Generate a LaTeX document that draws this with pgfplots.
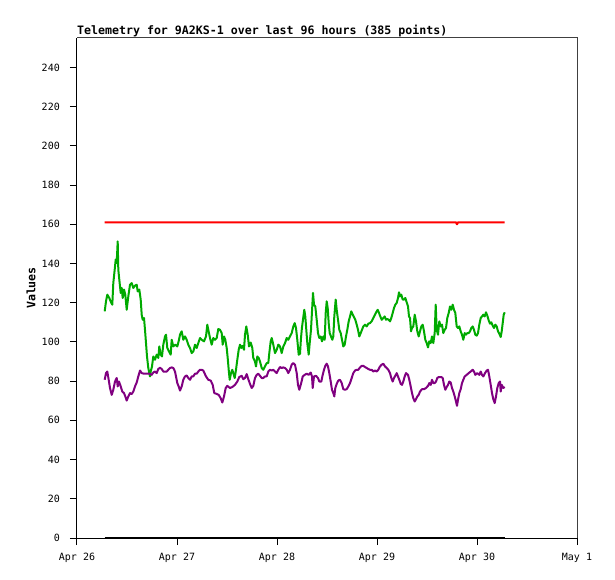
\documentclass[border=0pt]{standalone}
\usepackage{fontspec}
\setmonofont{DejaVu Sans Mono}
\usepackage{pgfplots}
\pgfplotsset{compat=1.18}
\definecolor{tgreen}{RGB}{0,170,0}
\definecolor{tpurple}{RGB}{128,0,128}
\definecolor{tframe}{RGB}{64,64,64}
\begin{document}
\begin{tikzpicture}
\begin{axis}[
  scale only axis, width=500pt, height=500pt,
  xmin=0, xmax=5, ymin=0, ymax=255,
  axis x line*=bottom, axis y line*=left,
  axis line style={black, line width=1pt},
  xtick={0,1,2,3,4,5},
  xticklabels={Apr 26,Apr 27,Apr 28,Apr 29,Apr 30,May 1},
  ytick={0,20,...,240},
  tick align=outside, major tick length=7pt,
  tick style={black, line width=1pt},
  /pgf/number format/assume math mode=true,
  xticklabel style={font=\ttfamily\fontsize{10}{12}\selectfont, anchor=base, inner sep=0pt, yshift=-15pt},
  yticklabel style={font=\ttfamily\fontsize{10}{12}\selectfont, anchor=east, inner sep=0pt, xshift=-10pt},
  clip=false,
]
\draw[tframe, line width=1pt] (rel axis cs:0,1) -- (rel axis cs:1,1) -- (rel axis cs:1,0);
\node[anchor=base west, inner sep=0pt, font=\ttfamily\bfseries\fontsize{11.6}{13}\selectfont] at ([yshift=3pt]rel axis cs:0,1) {Telemetry for 9A2KS-1 over last 96 hours (385 points)};
\node[rotate=90, inner sep=0pt, font=\ttfamily\bfseries\fontsize{11.6}{13}\selectfont] at ([xshift=-46pt]rel axis cs:0,0.5) {Values};

\addplot[black, line width=2pt, line join=round] coordinates {(0.277,0) (4.277,0)};
\addplot[red, line width=2pt, line join=round] coordinates {(0.277,161) (3.790,161) (3.800,160) (3.810,161) (4.277,161)};

\addplot[tgreen, line width=2pt, line join=round] coordinates {
(0.277,115.6) (0.290,120.7) (0.303,124.1) (0.323,122.4) (0.343,119.9) (0.353,119.0) (0.363,130.0) (0.377,136.9) (0.387,142.0) (0.397,140.3)
(0.407,151.3) (0.413,136.9) (0.423,131.8) (0.437,125.0) (0.447,127.5) (0.457,122.4) (0.470,126.7) (0.483,124.1) (0.497,116.4) (0.513,123.2)
(0.530,129.2) (0.547,130.0) (0.563,127.5) (0.580,128.7) (0.597,129.2) (0.607,125.8) (0.623,126.7) (0.637,121.6) (0.647,113.9) (0.657,111.3)
(0.670,112.2) (0.680,106.2) (0.690,99.4) (0.700,92.6) (0.713,86.7) (0.730,82.4) (0.737,84.9) (0.750,87.5) (0.763,92.6) (0.780,90.9)
(0.797,93.5) (0.813,91.8) (0.823,97.7) (0.837,93.5) (0.850,92.6) (0.863,98.6) (0.880,102.8) (0.890,103.7) (0.903,96.9) (0.920,95.1)
(0.937,93.5) (0.947,101.1) (0.963,97.7) (0.983,98.6) (1.003,97.7) (1.020,101.1) (1.030,103.7) (1.047,105.4) (1.063,101.1) (1.080,102.8)
(1.097,101.1) (1.113,98.6) (1.130,96.9) (1.147,94.3) (1.163,95.1) (1.180,98.6) (1.197,96.9) (1.213,99.4) (1.230,102.0) (1.247,101.1)
(1.270,100.3) (1.290,102.8) (1.303,108.8) (1.313,106.2) (1.330,102.0) (1.347,98.6) (1.363,102.0) (1.380,101.1) (1.397,102.0) (1.413,106.6)
(1.430,106.2) (1.447,104.5) (1.457,98.6) (1.470,102.8) (1.483,101.1) (1.497,96.9) (1.507,91.8) (1.517,85.8) (1.527,80.7) (1.540,84.1)
(1.553,85.8) (1.563,84.1) (1.577,81.6) (1.590,85.8) (1.603,90.9) (1.617,96.0) (1.630,98.6) (1.643,96.9) (1.657,98.0) (1.670,96.0)
(1.680,103.7) (1.693,107.9) (1.707,103.7) (1.720,97.7) (1.737,99.7) (1.753,96.9) (1.763,91.8) (1.780,90.0) (1.790,87.5) (1.803,92.6)
(1.817,91.8) (1.830,90.0) (1.847,86.7) (1.863,85.8) (1.880,87.5) (1.897,89.2) (1.913,89.2) (1.923,94.3) (1.937,100.3) (1.947,102.0)
(1.963,98.6) (1.980,94.3) (1.997,96.0) (2.013,98.6) (2.030,97.7) (2.047,94.3) (2.063,97.7) (2.080,99.4) (2.097,102.0) (2.113,101.1)
(2.130,102.8) (2.147,104.5) (2.163,107.9) (2.177,109.6) (2.190,107.1) (2.203,101.1) (2.217,93.5) (2.230,94.0) (2.240,102.0) (2.250,107.5)
(2.263,112.6) (2.273,116.4) (2.283,113.0) (2.293,106.2) (2.303,99.4) (2.317,93.5) (2.327,99.4) (2.340,106.2) (2.350,115.6) (2.360,125.0)
(2.370,119.0) (2.383,118.1) (2.397,111.3) (2.410,104.5) (2.423,102.0) (2.437,102.8) (2.450,100.3) (2.463,102.8) (2.477,101.1) (2.487,114.8)
(2.497,120.7) (2.507,117.3) (2.517,109.6) (2.527,104.5) (2.540,102.8) (2.553,101.1) (2.563,102.8) (2.573,113.0) (2.587,121.6) (2.597,116.4)
(2.610,111.3) (2.623,106.2) (2.637,104.5) (2.650,101.1) (2.663,97.7) (2.677,98.6) (2.690,102.8) (2.703,106.2) (2.717,110.5) (2.730,113.0)
(2.743,115.6) (2.757,113.9) (2.770,112.7) (2.783,111.3) (2.797,108.8) (2.810,106.2) (2.823,102.8) (2.837,104.5) (2.850,106.2) (2.863,107.9)
(2.880,108.8) (2.897,107.9) (2.913,109.3) (2.930,109.6) (2.947,110.5) (2.963,112.2) (2.980,113.9) (2.997,115.6) (3.007,116.4) (3.020,114.8)
(3.033,113.0) (3.047,111.3) (3.063,112.2) (3.077,113.0) (3.090,111.3) (3.103,111.7) (3.117,111.3) (3.130,110.5) (3.143,112.2) (3.157,114.8)
(3.170,117.3) (3.183,119.0) (3.197,119.9) (3.210,122.4) (3.220,125.3) (3.230,123.2) (3.243,124.1) (3.257,121.6) (3.270,121.6) (3.283,122.4)
(3.297,120.2) (3.310,118.1) (3.320,113.0) (3.330,112.2) (3.340,105.4) (3.350,107.1) (3.363,107.9) (3.377,113.9) (3.390,110.5) (3.403,105.4)
(3.417,102.8) (3.430,105.4) (3.443,107.9) (3.457,108.8) (3.470,105.4) (3.483,101.1) (3.497,99.4) (3.510,97.2) (3.523,100.3) (3.537,99.4)
(3.550,102.8) (3.563,99.4) (3.577,104.5) (3.587,119.0) (3.597,106.2) (3.610,103.7) (3.623,110.5) (3.637,107.9) (3.650,108.8) (3.663,104.5)
(3.677,106.2) (3.690,107.1) (3.703,112.2) (3.717,114.8) (3.730,118.1) (3.743,116.4) (3.757,119.0) (3.770,116.4) (3.783,114.8) (3.797,107.9)
(3.810,107.1) (3.823,107.9) (3.837,105.4) (3.850,103.7) (3.863,101.1) (3.877,104.5) (3.890,103.7) (3.903,104.5) (3.917,104.5) (3.930,105.4)
(3.943,107.1) (3.957,107.9) (3.970,106.2) (3.983,103.7) (3.997,103.2) (4.010,104.5) (4.023,108.8) (4.037,112.2) (4.050,113.0) (4.063,113.9)
(4.077,113.0) (4.090,115.1) (4.103,113.4) (4.117,111.0) (4.130,109.3) (4.143,110.0) (4.157,108.3) (4.170,107.1) (4.183,108.8) (4.197,107.9)
(4.210,105.4) (4.223,104.2) (4.237,102.5) (4.247,105.4) (4.257,109.6) (4.267,113.9) (4.277,115.1)
};

\addplot[tpurple, line width=2pt, line join=round] coordinates {
(0.277,80.7) (0.290,84.1) (0.303,84.9) (0.317,80.7) (0.330,76.5) (0.347,73.0) (0.363,75.6) (0.380,79.8) (0.397,81.6) (0.407,77.3)
(0.420,79.8) (0.437,77.3) (0.453,74.7) (0.470,73.9) (0.483,72.2) (0.497,70.1) (0.513,72.2) (0.530,73.9) (0.547,73.4) (0.563,74.7)
(0.580,77.3) (0.597,79.3) (0.613,82.4) (0.630,85.4) (0.647,84.1) (0.670,83.8) (0.697,83.8) (0.723,83.8) (0.747,83.2) (0.763,84.4)
(0.780,84.9) (0.797,84.1) (0.813,86.2) (0.830,86.8) (0.847,86.2) (0.863,84.9) (0.880,84.9) (0.897,84.9) (0.913,85.8) (0.930,86.7)
(0.947,87.0) (0.963,86.7) (0.980,84.9) (0.990,82.4) (1.003,79.0) (1.017,77.3) (1.030,75.2) (1.047,77.3) (1.063,80.7) (1.080,82.4)
(1.097,82.9) (1.113,81.6) (1.130,80.7) (1.147,82.4) (1.163,82.4) (1.180,83.8) (1.197,83.8) (1.213,84.9) (1.230,85.8) (1.247,85.8)
(1.263,85.4) (1.290,82.4) (1.313,80.7) (1.337,80.3) (1.357,78.1) (1.373,73.9) (1.397,73.5) (1.417,73.0) (1.437,71.3) (1.453,69.1)
(1.470,72.2) (1.487,76.5) (1.503,77.6) (1.530,76.5) (1.553,77.0) (1.580,78.1) (1.603,79.8) (1.623,82.1) (1.647,82.7) (1.663,81.0)
(1.680,81.6) (1.697,83.6) (1.713,81.0) (1.730,78.6) (1.747,76.5) (1.763,77.6) (1.780,81.6) (1.797,83.2) (1.813,83.8) (1.830,82.7)
(1.847,81.6) (1.863,81.6) (1.880,82.4) (1.897,82.4) (1.913,84.9) (1.930,85.8) (1.947,85.4) (1.963,85.8) (1.980,84.9) (1.997,84.1)
(2.013,85.8) (2.030,87.2) (2.047,86.7) (2.063,87.0) (2.080,86.7) (2.097,85.8) (2.113,84.1) (2.130,85.8) (2.147,88.4) (2.163,89.2)
(2.180,88.4) (2.197,84.1) (2.210,78.1) (2.223,75.6) (2.237,78.1) (2.250,80.7) (2.257,82.4) (2.277,83.2) (2.297,83.8) (2.317,83.2)
(2.337,84.4) (2.350,82.4) (2.357,76.5) (2.370,82.4) (2.390,82.7) (2.410,81.6) (2.423,79.8) (2.443,79.8) (2.457,83.2) (2.470,85.8)
(2.483,87.8) (2.497,88.9) (2.510,87.5) (2.523,84.1) (2.537,79.8) (2.550,75.6) (2.563,73.9) (2.573,72.2) (2.583,76.5) (2.597,78.6)
(2.613,80.3) (2.630,80.7) (2.647,79.0) (2.663,75.9) (2.680,75.6) (2.697,75.9) (2.713,77.3) (2.730,79.0) (2.747,81.6) (2.763,84.1)
(2.780,85.4) (2.797,85.8) (2.813,85.8) (2.830,87.0) (2.847,87.8) (2.863,87.8) (2.880,87.2) (2.897,86.7) (2.913,86.2) (2.930,85.8)
(2.947,85.8) (2.963,84.9) (2.980,85.4) (2.997,84.9) (3.013,85.8) (3.030,87.5) (3.047,88.4) (3.063,88.9) (3.080,87.5) (3.097,86.7)
(3.113,85.8) (3.130,84.1) (3.143,81.6) (3.157,79.8) (3.170,81.6) (3.183,82.7) (3.197,84.1) (3.210,82.4) (3.223,80.7) (3.237,78.6)
(3.250,78.1) (3.263,79.8) (3.277,82.4) (3.290,84.1) (3.310,83.2) (3.323,80.7) (3.337,77.3) (3.350,73.9) (3.363,71.3) (3.377,69.6)
(3.390,70.8) (3.403,72.2) (3.417,73.0) (3.430,74.7) (3.450,75.9) (3.470,75.9) (3.490,76.5) (3.510,77.6) (3.523,79.0) (3.537,78.1)
(3.550,80.7) (3.563,79.0) (3.577,79.0) (3.590,79.8) (3.603,81.6) (3.617,82.1) (3.630,82.1) (3.643,82.1) (3.657,81.6) (3.670,78.1)
(3.683,75.6) (3.697,77.0) (3.710,78.1) (3.723,79.8) (3.737,79.3) (3.750,76.5) (3.763,74.7) (3.777,72.2) (3.790,69.6) (3.800,67.4)
(3.810,70.5) (3.823,73.9) (3.837,75.9) (3.850,79.0) (3.863,80.7) (3.877,82.4) (3.897,83.2) (3.917,84.1) (3.937,84.9) (3.957,85.8)
(3.970,84.9) (3.983,83.2) (4.003,84.1) (4.023,83.2) (4.037,84.9) (4.050,83.2) (4.063,82.4) (4.080,84.1) (4.097,85.4) (4.110,85.8)
(4.123,82.4) (4.137,78.1) (4.150,73.9) (4.163,70.8) (4.177,68.8) (4.190,72.2) (4.203,76.5) (4.217,79.0) (4.230,79.8) (4.237,74.7)
(4.247,78.1) (4.263,76.5) (4.277,77.0)
};
\end{axis}
\pgfresetboundingbox
\path (-77pt,-41pt) rectangle (538pt,538pt);
\end{tikzpicture}
\end{document}
